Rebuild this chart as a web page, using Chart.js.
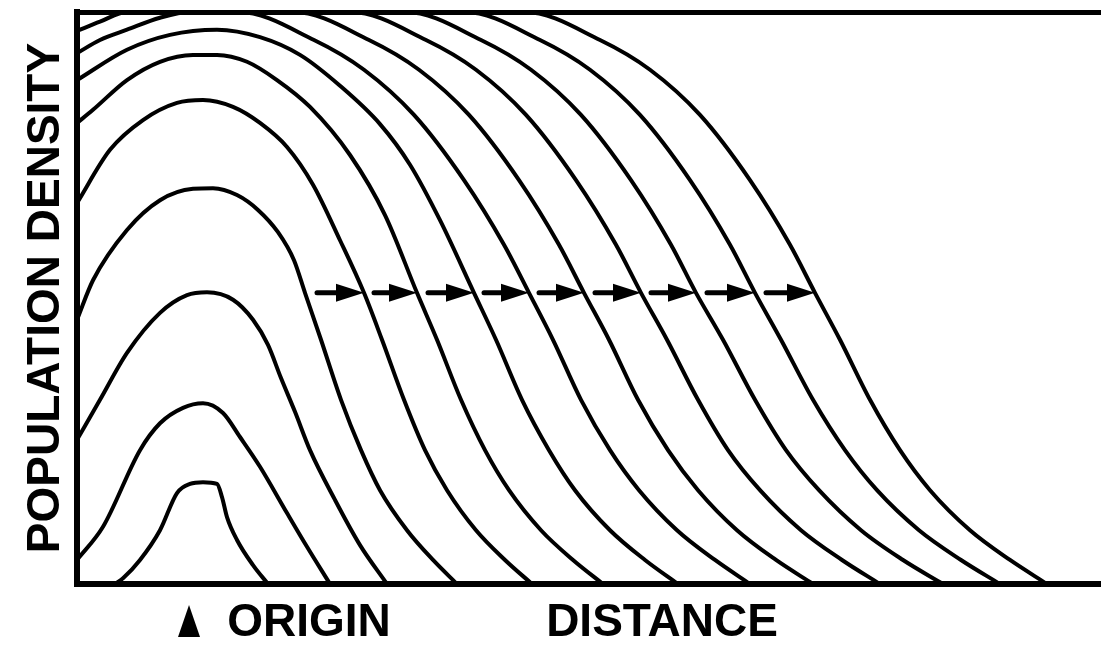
<!DOCTYPE html>
<html>
<head>
<meta charset="utf-8">
<title>Population density waves</title>
<script src="https://cdn.jsdelivr.net/npm/chart.js@4.4.1/dist/chart.umd.min.js"></script>
<style>
  html, body { margin: 0; padding: 0; background: #fff; }
  #wrap { width: 1101px; height: 645px; }
</style>
</head>
<body>
<div id="wrap"><canvas id="waves"></canvas></div>
<script>
// density profiles, earliest (innermost) to latest (outermost)
// [distance, density] with density 100 = carrying capacity
const wave1 = [[3.8,0],[4.6,1.0],[6.3,4.2],[8.3,9.4],[10.0,15.9],[11.3,17.5],[12.6,17.8],[14.0,17.5],[14.5,15.2],[15.0,11.7],[16.0,7.7],[17.6,3.3],[19.1,0]];
const wave2 = [[0,4.2],[2.6,10.0],[6.3,23.4],[8.3,28.1],[10.6,30.8],[12.6,31.6],[14.6,29.9],[16.3,25.7],[18.3,20.5],[21.0,12.4],[23.0,6.5],[25.3,0]];
const wave3 = [[0,25.2],[2.3,32.2],[5.0,40.4],[8.3,47.4],[11.0,50.5],[13.0,51.0],[15.6,49.7],[17.6,46.2],[19.1,41.8],[20.4,36.0],[21.8,30.1],[23.3,23.4],[25.8,14.7],[28.3,6.8],[31.0,0]];
const wave4 = [[0,46.2],[1.6,53.1],[5.0,61.9],[8.3,67.1],[11.6,69.1],[13.6,69.2],[16.0,68.0],[18.1,65.4],[20.1,61.5],[21.7,56.6],[22.8,50.9],[24.4,42.7],[26.4,32.2],[28.4,23.4],[30.3,16.4],[33.0,9.4],[35.6,4.2],[38.0,0]];
const wave5 = [[0,66.6],[3.3,75.9],[6.6,81.1],[10.0,84.1],[12.6,84.6],[15.6,83.4],[18.3,80.6],[21.0,76.4],[23.6,69.8],[26.3,60.1],[28.7,50.9],[30.5,42.7],[32.7,32.2],[34.8,23.4],[37.0,16.4],[39.9,9.4],[42.8,4.2],[45.5,0]];
const wave6 = [[0,80.6],[1.6,82.9],[5.0,88.1],[8.3,91.3],[11.6,92.5],[14.0,92.5],[17.0,91.3],[20.0,88.1],[23.3,83.4],[27.3,75.0],[30.8,64.5],[34.0,50.9],[36.0,42.7],[38.4,32.2],[40.8,23.4],[43.2,16.4],[46.4,9.4],[49.6,4.2],[52.6,0]];
const wave7 = [[0,88.1],[5.0,93.4],[9.3,96.0],[14.0,96.9],[18.3,95.6],[22.3,92.5],[26.3,87.1],[30.3,80.4],[33.3,73.3],[36.3,63.6],[39.7,50.9],[41.9,42.7],[44.5,32.2],[47.2,23.4],[49.8,16.4],[53.3,9.4],[56.8,4.2],[60.1,0]];
const wave8 = [[0,92.8],[2.3,95.1],[5.0,96.9],[8.3,99.0],[11.3,100],[16.2,100],[23.7,95.1],[28.7,89.9],[33.7,82.0],[38.7,70.6],[42.7,59.3],[45.2,50.9],[47.6,42.7],[50.4,32.2],[53.3,23.4],[56.2,16.4],[60.0,9.4],[63.8,4.2],[67.3,0]];
const wave9 = [[0,96.7],[2.3,98.3],[5.0,100],[21.7,100],[29.2,95.1],[34.2,89.9],[39.2,82.0],[44.2,70.6],[48.2,59.3],[50.7,50.9],[53.2,42.7],[56.1,32.2],[59.1,23.4],[62.1,16.4],[66.0,9.4],[69.9,4.2],[73.6,0]];
const wave10 = [[0,100],[27.4,100],[34.9,95.1],[39.9,89.9],[44.9,82.0],[49.9,70.6],[53.9,59.3],[56.4,50.9],[59.0,42.7],[62.1,32.2],[65.1,23.4],[68.3,16.4],[72.4,9.4],[76.5,4.2],[80.3,0]];
const wave11 = [[0,100],[32.9,100],[40.4,95.1],[45.4,89.9],[50.4,82.0],[55.4,70.6],[59.4,59.3],[61.9,50.9],[64.6,42.7],[67.8,32.2],[70.9,23.4],[74.2,16.4],[78.4,9.4],[82.6,4.2],[86.6,0]];
const wave12 = [[0,100],[38.8,100],[46.3,95.1],[51.3,89.9],[56.3,82.0],[61.3,70.6],[65.3,59.3],[67.8,50.9],[70.4,42.7],[73.6,32.2],[76.8,23.4],[80.0,16.4],[84.2,9.4],[88.4,4.2],[92.3,0]];
const wave13 = [[0,100],[44.8,100],[52.3,95.1],[57.3,89.9],[62.3,82.0],[67.3,70.6],[71.3,59.3],[73.8,50.9],[76.3,42.7],[79.3,32.2],[82.3,23.4],[85.3,16.4],[89.3,9.4],[93.3,4.2],[97.0,0]];

const waves = [wave1, wave2, wave3, wave4, wave5, wave6, wave7, wave8, wave9, wave10, wave11, wave12, wave13];

// arrows showing the front moving outward
const arrowLevel = 50.9;
const arrowTails = [24.0, 29.7, 35.1, 40.7, 46.2, 51.8, 57.4, 63.0, 68.9];
const arrowTips = [28.7, 34.0, 39.7, 45.2, 50.7, 56.4, 61.9, 67.8, 73.8];

const originMark = 11.2;
const xLabelValues = [23.2, 58.5];
const xLabelTexts = ['ORIGIN', 'DISTANCE'];
const yTitle = 'POPULATION DENSITY';

const FONT = "'Liberation Sans', Arial, Helvetica, sans-serif";

const arrowPlugin = {
    id: 'arrows',
    afterDatasetsDraw(chart) {
        const { ctx, scales: { x, y }, chartArea } = chart;
        const py = y.getPixelForValue(arrowLevel);
        const head = 28;
        ctx.save();
        ctx.fillStyle = '#000';
        ctx.strokeStyle = '#000';
        ctx.lineWidth = 5;
        ctx.lineCap = 'round';
        arrowTails.forEach((t, i) => {
            const x0 = x.getPixelForValue(t);
            const x1 = x.getPixelForValue(arrowTips[i]);
            ctx.beginPath();
            ctx.moveTo(x0, py);
            ctx.lineTo(x1 - head + 2, py);
            ctx.stroke();
            ctx.beginPath();
            ctx.moveTo(x1, py);
            ctx.lineTo(x1 - head, py - 9);
            ctx.lineTo(x1 - head, py + 9);
            ctx.closePath();
            ctx.fill();
        });

        // origin marker under the axis
        const ox = x.getPixelForValue(originMark);
        const top = chartArea.bottom + 21;
        ctx.beginPath();
        ctx.moveTo(ox, top);
        ctx.lineTo(ox + 11, top + 32);
        ctx.lineTo(ox - 11, top + 32);
        ctx.closePath();
        ctx.fill();
        ctx.restore();
    }
};

const ctx = document.getElementById('waves').getContext('2d');
new Chart(ctx, {
    type: 'line',
    data: {
        datasets: waves.map((w, i) => ({
            label: 'wave ' + (i + 1),
            data: w.map(p => ({ x: p[0], y: p[1] })),
            borderColor: '#000',
            borderWidth: 4,
            pointRadius: 0,
            fill: false,
            cubicInterpolationMode: 'monotone'
        }))
    },
    options: {
        responsive: true,
        maintainAspectRatio: false,
        animation: false,
        layout: { padding: 0 },
        plugins: {
            legend: { display: false },
            tooltip: { enabled: false }
        },
        scales: {
            x: {
                type: 'linear',
                min: 0,
                max: 102.4,
                grid: { display: false, drawTicks: false },
                border: { display: true, color: '#000', width: 6 },
                afterBuildTicks: (scale) => {
                    scale.ticks = xLabelValues.map(v => ({ value: v }));
                },
                afterFit: (scale) => { scale.height = 61; },
                ticks: {
                    autoSkip: false,
                    maxRotation: 0,
                    padding: 12,
                    color: '#000',
                    font: { family: FONT, size: 46, weight: 'bold' },
                    callback: (v, i) => xLabelTexts[i]
                }
            },
            x2: {
                type: 'linear',
                position: 'top',
                min: 0,
                max: 102.4,
                grid: { display: false, drawTicks: false },
                border: { display: true, color: '#000', width: 5 },
                ticks: { display: false },
                afterFit: (scale) => { scale.height = 12; }
            },
            y: {
                min: 0,
                max: 100,
                grid: { display: false, drawTicks: false },
                border: { display: true, color: '#000', width: 6 },
                ticks: { display: false },
                afterFit: (scale) => { scale.width = 77; },
                title: {
                    display: true,
                    text: yTitle,
                    color: '#000',
                    padding: { top: 23, bottom: 0 },
                    font: { family: FONT, size: 46, weight: 'bold', lineHeight: 1 }
                }
            }
        }
    },
    plugins: [arrowPlugin]
});
</script>
</body>
</html>
